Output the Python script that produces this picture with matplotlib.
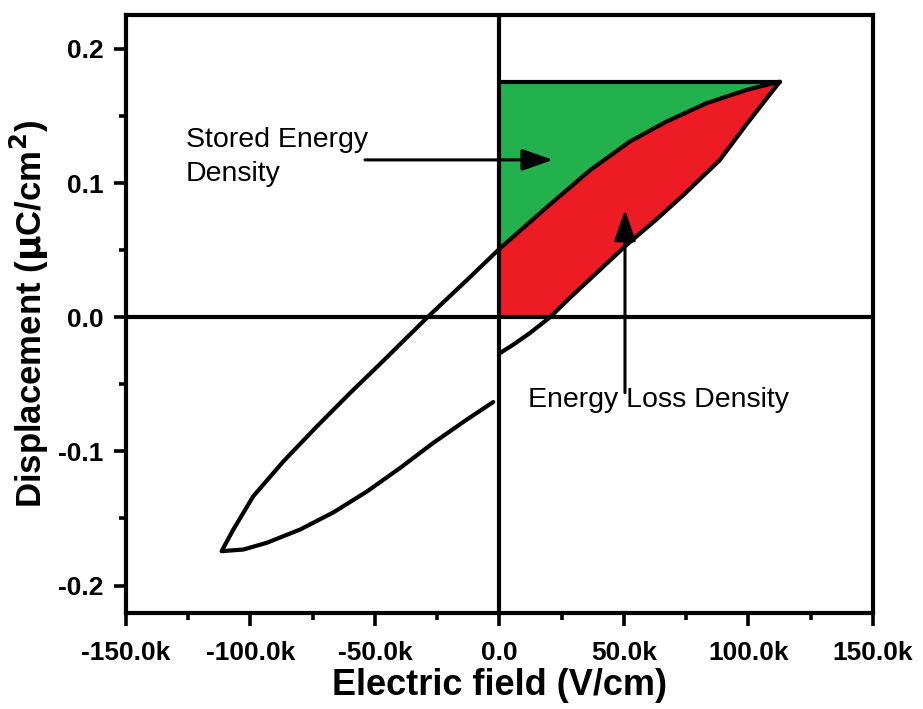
import numpy as np
import matplotlib
matplotlib.use("Agg")
import matplotlib.pyplot as plt
from matplotlib.ticker import MultipleLocator, FixedLocator, FixedFormatter

plt.rcParams['font.family'] = ['Liberation Sans', 'DejaVu Sans']

# ---- data (E in units of 1000 V/cm, D in uC/cm^2) ----
# lower branch: from the loop start near E=0 down to the negative tip
lower_E = [-2.5, -13.2, -26.6, -40.0, -53.3, -66.7, -80.1, -93.5, -102.9, -111.6]
lower_D = [-0.0632, -0.0764, -0.0937, -0.1125, -0.1300, -0.1455, -0.1583, -0.1682, -0.1732, -0.1744]

# rising branch: from the negative tip up to the positive tip
upper_E = [-111.6, -106.9, -98.9, -86.8, -73.4, -60.0, -45.3, -29.2, -13.2, 0.0,
           19.0, 36.3, 52.4, 67.1, 83.2, 99.3, 110.0, 112.6]
upper_D = [-0.1744, -0.1583, -0.1335, -0.1075, -0.0815, -0.0565, -0.0300, -0.0005, 0.0275, 0.0510,
           0.0820, 0.1095, 0.1310, 0.1459, 0.1596, 0.1695, 0.1745, 0.1756]

# falling (discharge) branch: from the positive tip down to E=0
desc_E = [112.6, 106.0, 99.3, 88.4, 73.8, 63.1, 51.1, 39.0, 28.3, 20.3, 12.2, 5.5, 0.2]
desc_D = [0.1756, 0.160, 0.144, 0.117, 0.091, 0.073, 0.054, 0.033, 0.0145, 0.0, -0.0118, -0.0205, -0.0267]

D_max = 0.1756
E_max = 112.6

xtick_vals = [-150, -100, -50, 0, 50, 100, 150]
xtick_labels = ['-150.0k', '-100.0k', '-50.0k', '0.0', '50.0k', '100.0k', '150.0k']
ytick_vals = [-0.2, -0.1, 0.0, 0.1, 0.2]
ytick_labels = ['-0.2', '-0.1', '0.0', '0.1', '0.2']

GREEN = '#22B14C'
RED = '#ED1C24'

fig = plt.figure(figsize=(9.23, 7.09), dpi=100)
ax = fig.add_axes([0.1365, 0.1354, 0.8093, 0.8434])

uE = np.array(upper_E); uD = np.array(upper_D)
dE = np.array(desc_E); dD = np.array(desc_D)
pos = uE >= 0

# stored energy (green): between D_max line and rising branch, E >= 0
gx = np.concatenate([[0, E_max], uE[pos][::-1]])
gy = np.concatenate([[D_max, D_max], uD[pos][::-1]])
ax.fill(gx, gy, color=GREEN, lw=0, zorder=1)

# energy loss (red): between rising branch and falling branch, D >= 0, E >= 0
dpos = dD >= 0
rx = np.concatenate([[0], uE[pos], dE[dpos][1:], [0]])
ry = np.concatenate([[0], uD[pos], dD[dpos][1:], [0]])
ax.fill(rx, ry, color=RED, lw=0, zorder=1)

# loop outline
lE = np.concatenate([lower_E, upper_E[1:], desc_E[1:]])
lD = np.concatenate([lower_D, upper_D[1:], desc_D[1:]])
ax.plot(lE, lD, color='black', lw=3.0, solid_capstyle='round', solid_joinstyle='round', zorder=3)
ax.plot([0, E_max], [D_max, D_max], color='black', lw=3.0, solid_capstyle='round', zorder=3)

ax.axhline(0, color='black', lw=3.0, zorder=2)
ax.axvline(0, color='black', lw=3.0, zorder=2)

ax.set_xlim(-150, 150)
ax.set_ylim(-0.2205, 0.2253)

ax.xaxis.set_major_locator(FixedLocator(xtick_vals))
ax.xaxis.set_major_formatter(FixedFormatter(xtick_labels))
ax.xaxis.set_minor_locator(MultipleLocator(25))
ax.yaxis.set_major_locator(FixedLocator(ytick_vals))
ax.yaxis.set_major_formatter(FixedFormatter(ytick_labels))
ax.yaxis.set_minor_locator(MultipleLocator(0.05))

for s in ax.spines.values():
    s.set_linewidth(3.0)
ax.tick_params(which='major', direction='out', length=9, width=2.6, labelsize=19)
ax.tick_params(which='minor', direction='out', length=5, width=2.6)
ax.tick_params(axis='x', which='major', pad=11)
ax.tick_params(axis='y', which='major', pad=7)
for lbl in ax.get_xticklabels() + ax.get_yticklabels():
    lbl.set_fontweight('bold')

ax.set_xlabel('Electric field (V/cm)', fontsize=26, fontweight='bold', labelpad=2)
ax.set_ylabel('Displacement ($\\mathbf{\\mu}$C/cm$^\\mathbf{2}$)', fontsize=25, fontweight='bold', labelpad=5)

# annotations
ax.text(-125.9, 0.1270, 'Stored Energy', fontsize=20.5, ha='left', va='baseline', zorder=5)
ax.text(-125.9, 0.1017, 'Density', fontsize=20.5, ha='left', va='baseline', zorder=5)
ax.annotate('', xy=(21.5, 0.1173), xytext=(-54.0, 0.1173),
            arrowprops=dict(arrowstyle='-|>,head_length=1.0,head_width=0.35', mutation_scale=19,
                            color='black', lw=2.2, shrinkA=0, shrinkB=0), zorder=5)
ax.text(11.4, -0.0667, 'Energy Loss Density', fontsize=20.5, ha='left', va='baseline', zorder=5)
ax.annotate('', xy=(50.4, 0.0801), xytext=(50.4, -0.0562),
            arrowprops=dict(arrowstyle='-|>,head_length=1.0,head_width=0.35', mutation_scale=19,
                            color='black', lw=2.2, shrinkA=0, shrinkB=0), zorder=5)

fig.savefig('out.png', dpi=100)
